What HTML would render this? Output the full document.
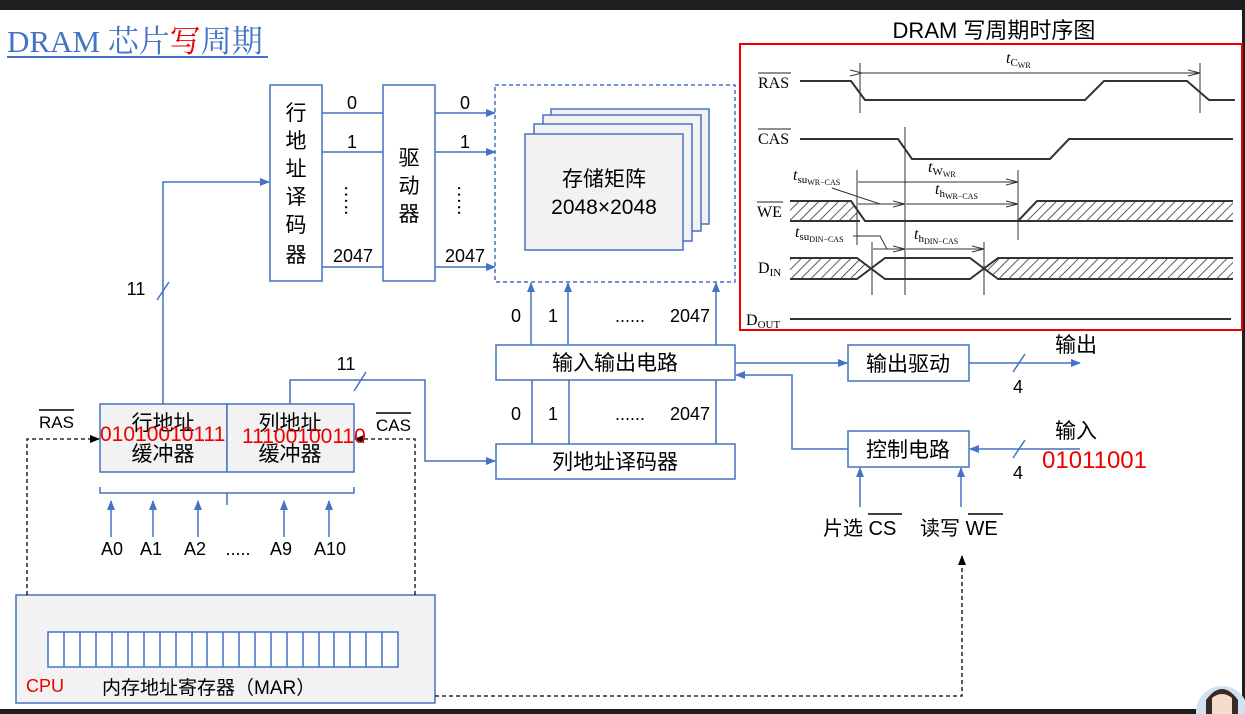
<!DOCTYPE html>
<html><head><meta charset="utf-8"><style>
html,body{margin:0;padding:0;background:#fff}
svg{display:block}
text{font-family:"Liberation Sans","Noto Sans CJK SC",sans-serif;fill:#000}
.s{font-family:"Liberation Serif","Noto Serif CJK SC",serif}
</style></head><body>
<svg width="1245" height="714" viewBox="0 0 1245 714" xmlns="http://www.w3.org/2000/svg">
<defs>
<marker id="ab" markerWidth="10" markerHeight="10" refX="9" refY="5" orient="auto" markerUnits="userSpaceOnUse"><path d="M0,1 L10,5 L0,9 z" fill="#4472c4"/></marker>
<marker id="ak" markerWidth="10" markerHeight="10" refX="9" refY="5" orient="auto" markerUnits="userSpaceOnUse"><path d="M0,1 L10,5 L0,9 z" fill="#000"/></marker>
<marker id="tk" markerWidth="12" markerHeight="8" refX="11" refY="4" orient="auto" markerUnits="userSpaceOnUse"><path d="M0,1 L12,4 L0,7" fill="none" stroke="#333" stroke-width="1"/></marker>
<pattern id="h" width="7" height="7" patternUnits="userSpaceOnUse" patternTransform="rotate(45)"><line x1="0" y1="0" x2="0" y2="7" stroke="#333" stroke-width="1.6"/></pattern>
</defs>
<rect x="0" y="0" width="1245" height="10" fill="#1e1e1e"/>
<rect x="0" y="709" width="1245" height="5" fill="#1e1e1e"/>
<rect x="1242" y="0" width="3" height="714" fill="#1e1e1e"/>

<!-- title -->
<text class="s" x="7" y="52" font-size="31" style="fill:#4472c4">DRAM 芯片<tspan style="fill:#e00">写</tspan>周期</text>
<line x1="7" y1="57" x2="268" y2="57" stroke="#4472c4" stroke-width="2"/>

<g stroke="#4472c4" stroke-width="1.5" fill="none">
<rect x="270" y="85" width="52" height="196" fill="#fff"/>
<rect x="383" y="85" width="52" height="196" fill="#fff"/>
<line x1="322" y1="113" x2="383" y2="113"/><line x1="322" y1="152" x2="383" y2="152"/><line x1="322" y1="267" x2="383" y2="267"/>
<line x1="435" y1="113" x2="495" y2="113" marker-end="url(#ab)"/><line x1="435" y1="152" x2="495" y2="152" marker-end="url(#ab)"/><line x1="435" y1="267" x2="495" y2="267" marker-end="url(#ab)"/>
<rect x="495" y="85" width="240" height="197" stroke-dasharray="4,3"/>
<rect x="551" y="109" width="158" height="115" fill="#f2f2f2"/>
<rect x="543" y="115" width="158" height="116" fill="#f2f2f2"/>
<rect x="534" y="124" width="158" height="117" fill="#f2f2f2"/>
<rect x="525" y="134" width="158" height="116" fill="#f2f2f2"/>
<line x1="531" y1="345" x2="531" y2="283" marker-end="url(#ab)"/><line x1="568" y1="345" x2="568" y2="283" marker-end="url(#ab)"/><line x1="716" y1="345" x2="716" y2="283" marker-end="url(#ab)"/>
<rect x="496" y="345" width="239" height="35" fill="#fff"/>
<line x1="532" y1="380" x2="532" y2="444"/><line x1="569" y1="380" x2="569" y2="444"/><line x1="716" y1="380" x2="716" y2="444"/>
<rect x="496" y="444" width="239" height="35" fill="#fff"/>
<polyline points="163,404 163,182 269,182" marker-end="url(#ab)"/>
<line x1="157" y1="300" x2="169" y2="282"/>
<polyline points="290,404 290,380 425,380 425,461 495,461" marker-end="url(#ab)"/>
<line x1="354" y1="391" x2="366" y2="372"/>
<rect x="100" y="404" width="127" height="68" fill="#f2f2f2"/>
<rect x="227" y="404" width="127" height="68" fill="#f2f2f2"/>
<path d="M100,487 V493 H354 V487 M227,493 V505"/>
<line x1="111" y1="537" x2="111" y2="501" marker-end="url(#ab)"/><line x1="153" y1="537" x2="153" y2="501" marker-end="url(#ab)"/><line x1="198" y1="537" x2="198" y2="501" marker-end="url(#ab)"/><line x1="284" y1="537" x2="284" y2="501" marker-end="url(#ab)"/><line x1="329" y1="537" x2="329" y2="501" marker-end="url(#ab)"/>
<rect x="16" y="595" width="419" height="108" fill="#f2f2f2"/>
<rect x="48" y="632" width="350" height="35" fill="#fff"/>
<path d="M64,632V667M80,632V667M96,632V667M112,632V667M128,632V667M144,632V667M160,632V667M176,632V667M192,632V667M207,632V667M223,632V667M239,632V667M255,632V667M271,632V667M287,632V667M303,632V667M319,632V667M334,632V667M350,632V667M366,632V667M382,632V667"/>
<line x1="735" y1="363" x2="847" y2="363" marker-end="url(#ab)"/>
<rect x="848" y="345" width="121" height="36" fill="#fff"/>
<line x1="969" y1="363" x2="1080" y2="363" marker-end="url(#ab)"/>
<line x1="1013" y1="372" x2="1025" y2="354"/>
<rect x="848" y="431" width="121" height="36" fill="#fff"/>
<polyline points="848,449 792,449 792,375 736,375" marker-end="url(#ab)"/>
<line x1="1080" y1="449" x2="970" y2="449" marker-end="url(#ab)"/>
<line x1="1013" y1="458" x2="1025" y2="440"/>
<line x1="860" y1="507" x2="860" y2="468" marker-end="url(#ab)"/><line x1="961" y1="507" x2="961" y2="468" marker-end="url(#ab)"/>
</g>
<g stroke="#000" stroke-width="1.3" fill="none" stroke-dasharray="4,3">
<polyline points="27,595 27,439 99,439" marker-end="url(#ak)"/>
<polyline points="415,595 415,439 355,439" marker-end="url(#ak)"/>
<polyline points="435,696 962,696 962,556" marker-end="url(#ak)"/>
</g>

<g font-size="21" text-anchor="middle">
<text x="296" y="120">行</text><text x="296" y="148">地</text><text x="296" y="176">址</text><text x="296" y="204">译</text><text x="296" y="232">码</text><text x="296" y="262">器</text>
<text x="409" y="165">驱</text><text x="409" y="193">动</text><text x="409" y="221">器</text>
<text x="604" y="186">存储矩阵</text><text x="604" y="214">2048×2048</text>
<text x="615" y="370">输入输出电路</text><text x="615" y="469">列地址译码器</text>
<text x="908" y="371">输出驱动</text><text x="908" y="457">控制电路</text>
<text x="163" y="430">行地址</text><text x="163" y="461">缓冲器</text>
<text x="290" y="430">列地址</text><text x="290" y="461">缓冲器</text>
</g>
<g font-size="18" text-anchor="middle">
<text x="352" y="109">0</text><text x="352" y="148">1</text><text x="353" y="262">2047</text>
<text x="465" y="109">0</text><text x="465" y="148">1</text><text x="465" y="262">2047</text>
<text x="345" y="200" font-size="20" transform="rotate(90 345 200)">…..</text>
<text x="458" y="200" font-size="20" transform="rotate(90 458 200)">…..</text>
<text x="516" y="322">0</text><text x="553" y="322">1</text><text x="630" y="322">......</text><text x="690" y="322">2047</text>
<text x="516" y="420">0</text><text x="553" y="420">1</text><text x="630" y="420">......</text><text x="690" y="420">2047</text>
<text x="136" y="295">11</text><text x="346" y="370">11</text>
<text x="112" y="555">A0</text><text x="151" y="555">A1</text><text x="195" y="555">A2</text><text x="238" y="555">.....</text><text x="281" y="555">A9</text><text x="330" y="555">A10</text>
<text x="1018" y="393">4</text><text x="1018" y="479">4</text>
</g>
<text x="39" y="428" font-size="17">RAS</text><line x1="39" y1="410" x2="74" y2="410" stroke="#000" stroke-width="1.5"/>
<text x="376" y="431" font-size="17">CAS</text><line x1="376" y1="413" x2="411" y2="413" stroke="#000" stroke-width="1.5"/>
<text x="100" y="441" font-size="21" style="fill:#e00">01010010111</text>
<text x="242" y="443" font-size="21" style="fill:#e00">11100100110</text>
<text x="26" y="692" font-size="18" style="fill:#e00">CPU</text>
<text x="102" y="694" font-size="19">内存地址寄存器（MAR）</text>
<text x="1055" y="352" font-size="21">输出</text>
<text x="1055" y="438" font-size="21">输入</text>
<text x="1042" y="468" font-size="24" style="fill:#e00">01011001</text>
<text x="823" y="535" font-size="20">片选 CS</text><line x1="868" y1="514" x2="902" y2="514" stroke="#000" stroke-width="1.5"/>
<text x="920" y="535" font-size="20">读写 WE</text><line x1="968" y1="514" x2="1003" y2="514" stroke="#000" stroke-width="1.5"/>

<circle cx="1222" cy="712" r="26" fill="#cfe3f5"/>
<ellipse cx="1222" cy="706" rx="14" ry="16" fill="#f6dccf"/>
<path d="M1206,700 Q1222,678 1238,700 L1238,714 L1232,714 L1232,698 Q1222,690 1212,698 L1212,714 L1206,714z" fill="#3a2a24"/>

<text x="994" y="38" font-size="22" text-anchor="middle">DRAM 写周期时序图</text>
<rect x="740" y="44" width="502" height="286" fill="none" stroke="#e00" stroke-width="2"/>
<g class="s" font-size="16">
<text x="758" y="88" class="s">RAS</text><line x1="758" y1="73" x2="791" y2="73" stroke="#222"/>
<text x="758" y="144" class="s">CAS</text><line x1="758" y1="129" x2="791" y2="129" stroke="#222"/>
<text x="757" y="217" class="s">WE</text><line x1="757" y1="202" x2="783" y2="202" stroke="#222"/>
<text x="758" y="273" class="s">D<tspan font-size="11" dy="3">IN</tspan></text>
<text x="746" y="325" class="s">D<tspan font-size="11" dy="3">OUT</tspan></text>
<text x="1006" y="63" class="s" font-style="italic">t<tspan font-size="11" dy="3" font-style="normal">C</tspan><tspan font-size="8" dy="2" font-style="normal">WR</tspan></text>
<text x="928" y="172" class="s" font-style="italic">t<tspan font-size="11" dy="3" font-style="normal">W</tspan><tspan font-size="8" dy="2" font-style="normal">WR</tspan></text>
<text x="935" y="194" class="s" font-style="italic">t<tspan font-size="11" dy="3" font-style="normal">h</tspan><tspan font-size="8" dy="2" font-style="normal">WR−CAS</tspan></text>
<text x="793" y="180" class="s" font-style="italic">t<tspan font-size="11" dy="3" font-style="normal">su</tspan><tspan font-size="8" dy="2" font-style="normal">WR−CAS</tspan></text>
<text x="795" y="237" class="s" font-style="italic">t<tspan font-size="11" dy="3" font-style="normal">su</tspan><tspan font-size="8" dy="2" font-style="normal">DIN−CAS</tspan></text>
<text x="914" y="239" class="s" font-style="italic">t<tspan font-size="11" dy="3" font-style="normal">h</tspan><tspan font-size="8" dy="2" font-style="normal">DIN−CAS</tspan></text>
</g>
<g stroke="#333" stroke-width="2" fill="none">
<polyline points="800,81 851,81 865,100 1085,100 1104,81 1187,81 1209,100 1235,100"/>
<polyline points="800,139 898,139 912,159 1050,159 1069,139 1233,139"/>
<path d="M790,201 H851 L857,210 L857,221 H790z" fill="url(#h)" stroke="none"/>
<path d="M1025,221 L1037,201 H1233 V221z" fill="url(#h)" stroke="none"/>
<polyline points="790,201 851,201 865,221 1018,221 1037,201 1233,201"/>
<line x1="1018" y1="221" x2="1233" y2="221"/><line x1="790" y1="221" x2="860" y2="221"/>
<path d="M790,258 H857 L872,268 L857,279 H790z" fill="url(#h)" stroke="none"/>
<path d="M984,268 L998,258 H1233 V279 H998z" fill="url(#h)" stroke="none"/>
<polyline points="790,258 857,258 885,279 970,279 998,258 1233,258"/>
<polyline points="790,279 857,279 885,258 970,258 998,279 1233,279"/>
<line x1="790" y1="319" x2="1231" y2="319"/>
</g>
<g stroke="#333" stroke-width="1" fill="none">
<line x1="860" y1="63" x2="860" y2="113"/><line x1="1200" y1="63" x2="1200" y2="113"/>
<line x1="905" y1="127" x2="905" y2="295"/>
<line x1="857" y1="170" x2="857" y2="245"/><line x1="1018" y1="170" x2="1018" y2="240"/>
<line x1="872" y1="242" x2="872" y2="295"/><line x1="984" y1="242" x2="984" y2="295"/>
<line x1="861" y1="73" x2="1199" y2="73" marker-end="url(#tk)" marker-start="url(#tk)"/>
<line x1="858" y1="182" x2="1017" y2="182" marker-end="url(#tk)"/>
<line x1="906" y1="204" x2="1017" y2="204" marker-end="url(#tk)"/>
<line x1="858" y1="204" x2="904" y2="204" marker-end="url(#tk)"/>
<line x1="873" y1="249" x2="904" y2="249" marker-end="url(#tk)"/>
<line x1="906" y1="249" x2="983" y2="249" marker-end="url(#tk)"/>
<polyline points="832,188 880,204"/>
<polyline points="853,236 880,236 887,249"/>
</g>
</svg>
</body></html>
